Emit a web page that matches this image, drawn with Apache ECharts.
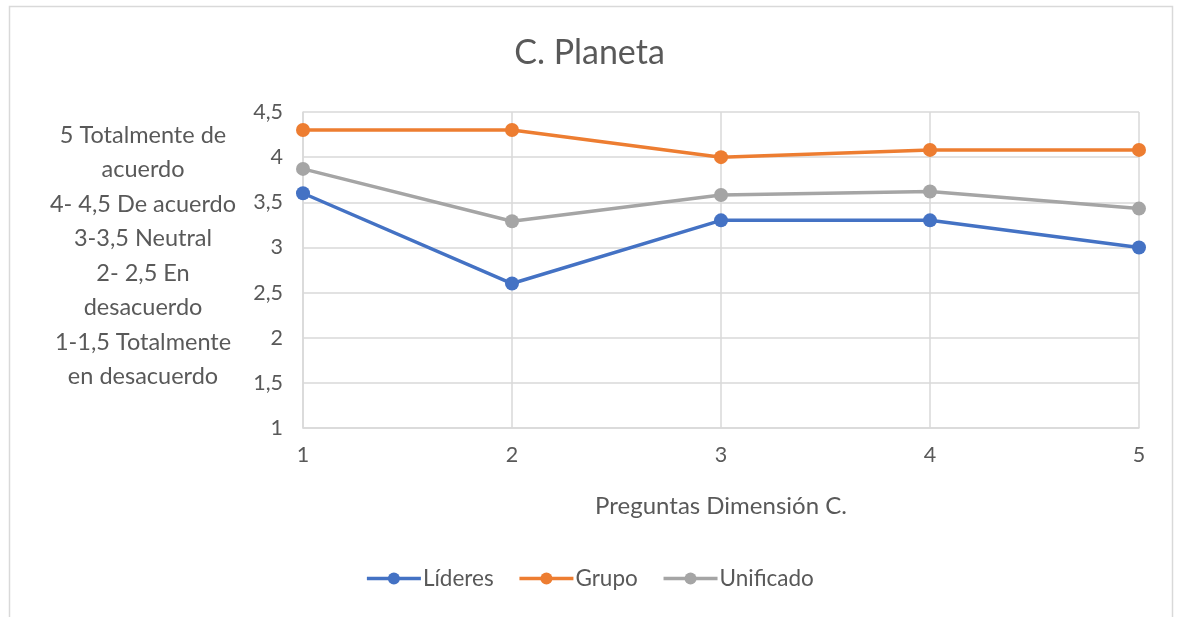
<!DOCTYPE html>
<html>
<head>
<meta charset="utf-8">
<script src="https://cdn.jsdelivr.net/npm/echarts@6/dist/echarts.min.js"></script>
<style>
  html, body { margin: 0; padding: 0; background: #fff; }
  #chart { width: 1179px; height: 617px; }
</style>
</head>
<body>
<div id="chart"></div>
<script>
const categories = ['1', '2', '3', '4', '5'];
const lideres = [3.6, 2.6, 3.3, 3.3, 3.0];
const grupo = [4.3, 4.3, 4.0, 4.08, 4.08];
const unificado = [3.87, 3.29, 3.58, 3.62, 3.43];
const scaleText = '5 Totalmente de\nacuerdo\n4- 4,5 De acuerdo\n3-3,5 Neutral\n2- 2,5 En\ndesacuerdo\n1-1,5 Totalmente\nen desacuerdo';

const FONT = 'Lato';
const TEXT = '#595959';
const GRID = '#d9d9d9';

const chart = echarts.init(document.getElementById('chart'));

function lineSeries(name, data, color) {
  return {
    name, type: 'line', data,
    symbol: 'circle', symbolSize: 14,
    lineStyle: { width: 3.5, color },
    itemStyle: { color },
    emphasis: { disabled: true },
    z: 3
  };
}

chart.setOption({
  animation: false,
  textStyle: { fontFamily: FONT },
  title: {
    text: 'C. Planeta',
    left: 'center', top: 31,
    textStyle: { fontFamily: FONT, fontSize: 34, fontWeight: 'normal', color: TEXT }
  },
  graphic: [
    {
      type: 'rect', silent: true, z: -1,
      shape: { x: 9.5, y: 6.5, width: 1163, height: 640 },
      style: { fill: 'none', stroke: GRID, lineWidth: 1.5 }
    },
    {
      type: 'text', silent: true,
      x: 143, y: 256,
      style: {
        text: scaleText, fontFamily: FONT, fontSize: 23.5, lineHeight: 34.5,
        fill: TEXT, align: 'center', verticalAlign: 'middle'
      }
    }
  ],
  legend: {
    bottom: 22, left: 'center',
    itemWidth: 54, itemHeight: 15, itemGap: 24,
    lineStyle: { width: 3.5 },
    textStyle: { fontFamily: FONT, fontSize: 22.5, color: TEXT, padding: [0, 0, 0, -3] },
    data: ['Líderes', 'Grupo', 'Unificado']
  },
  grid: { left: 303, right: 40, top: 112, bottom: 189 },
  xAxis: {
    type: 'category', data: categories, boundaryGap: false,
    name: 'Preguntas Dimensión C.', nameLocation: 'middle', nameGap: 66,
    nameTextStyle: { fontFamily: FONT, fontSize: 24, color: TEXT },
    axisLine: { lineStyle: { color: GRID, width: 1.5 } },
    axisTick: { show: false },
    axisLabel: { fontFamily: FONT, fontSize: 21.5, color: TEXT, margin: 16 },
    splitLine: { show: true, lineStyle: { color: GRID, width: 1.5 } }
  },
  yAxis: {
    type: 'value', min: 1, max: 4.5, interval: 0.5,
    axisLine: { show: true, lineStyle: { color: GRID, width: 1.5 } },
    axisTick: { show: false },
    axisLabel: {
      fontFamily: FONT, fontSize: 21.5, color: TEXT, margin: 20,
      formatter: v => String(v).replace('.', ',')
    },
    splitLine: { lineStyle: { color: GRID, width: 1.5 } }
  },
  series: [
    lineSeries('Líderes', lideres, '#4472c4'),
    lineSeries('Grupo', grupo, '#ed7d31'),
    lineSeries('Unificado', unificado, '#a5a5a5')
  ]
});
</script>
</body>
</html>
